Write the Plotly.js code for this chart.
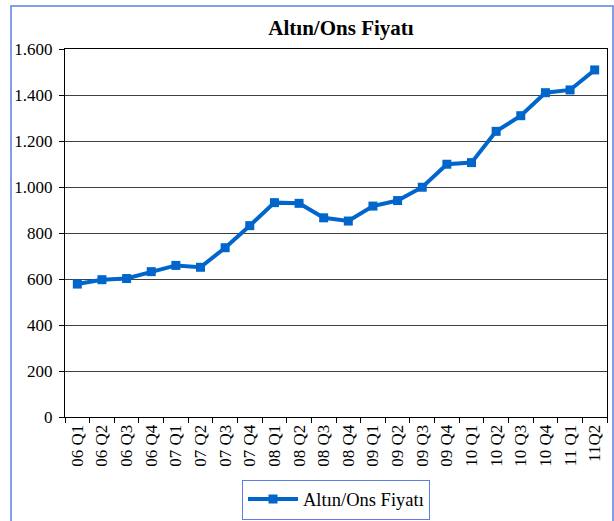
<!DOCTYPE html>
<html>
<head>
<meta charset="utf-8">
<script src="https://cdn.plot.ly/plotly-3.0.1.min.js"></script>
<style>html,body{margin:0;padding:0;background:#fff;}#chart{width:614px;height:521px;}</style>
</head>
<body>
<div id="chart"></div>
<script>
const quarters = ["06 Q1","06 Q2","06 Q3","06 Q4","07 Q1","07 Q2","07 Q3","07 Q4","08 Q1","08 Q2","08 Q3","08 Q4","09 Q1","09 Q2","09 Q3","09 Q4","10 Q1","10 Q2","10 Q3","10 Q4","11 Q1","11Q2"];
const goldPrice = [578,597,602,632,659,651,736,832,932,929,866,852,917,941,999,1099,1106,1242,1310,1410,1422,1509];
const yTicks = [0,200,400,600,800,1000,1200,1400,1600];
const seriesName = "Altın/Ons Fiyatı";
const chartTitle = "Altın/Ons Fiyatı";

const font = "Liberation Serif";
const trace = {
  x: quarters, y: goldPrice, type: "scatter", mode: "lines+markers", name: seriesName,
  line: {color: "#0066cc", width: 4},
  marker: {symbol: "square", size: 9, color: "#0066cc"}
};
const layout = {
  width: 614, height: 521,
  margin: {l: 65, r: 7, t: 49, b: 104, autoexpand: false},
  paper_bgcolor: "#fff", plot_bgcolor: "#fff",
  separators: ",.",
  font: {family: font, color: "#000", size: 17},
  title: {text: "<b>" + chartTitle + "</b>", font: {family: font, size: 21, color: "#000"},
          x: 341/614, xanchor: "center", y: 1 - 28/521, yanchor: "middle"},
  showlegend: true,
  legend: {orientation: "h", x: 0.5, xanchor: "center", y: -0.17, yanchor: "top",
           bordercolor: "#5b7fe8", borderwidth: 1, font: {family: font, size: 18.5, color: "#000"},
           itemwidth: 50},
  xaxis: {type: "category", range: [-0.5, quarters.length - 0.5], tickangle: -90,
          tickson: "boundaries", ticks: "outside", ticklen: 5, tickcolor: "#000",
          showline: true, linecolor: "#000", linewidth: 1, mirror: true, showgrid: false,
          tickfont: {family: font, size: 17, color: "#000"}, fixedrange: true},
  yaxis: {range: [0, 1600], tickvals: yTicks, tickformat: ",d", ticks: "outside", ticklen: 5,
          ticklabelstandoff: 3,
          tickcolor: "#000", showline: true, linecolor: "#000", linewidth: 1, mirror: true,
          showgrid: true, gridcolor: "#404040", gridwidth: 1, zeroline: false,
          tickfont: {family: font, size: 17, color: "#000"}, fixedrange: true},
  shapes: [{type: "rect", xref: "paper", yref: "paper",
            x0: (11-65)/542, x1: (613-65)/542, y0: 1-(560-49)/368, y1: 1+(49-6)/368,
            line: {color: "#5b7fe8", width: 1.5}, fillcolor: "rgba(0,0,0,0)", layer: "below"}]
};
Plotly.newPlot("chart", [trace], layout, {displayModeBar: false, staticPlot: true});
</script>
</body>
</html>
